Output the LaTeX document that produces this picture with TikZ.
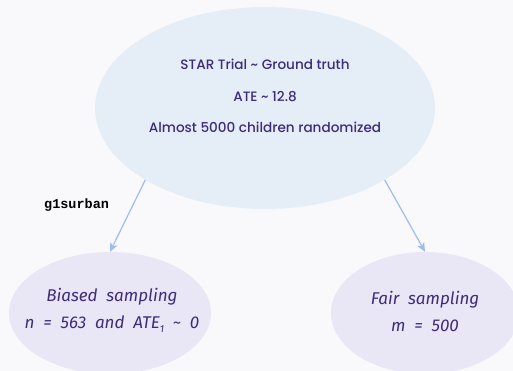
\documentclass[tikz,border=0pt]{standalone}
\usepackage{fontspec}
\usepackage{tikz}
\usetikzlibrary{arrows.meta, shapes.geometric}
\newfontfamily\headfont{Poppins Medium}
\newfontfamily\handfont[WordSpace=2]{Fira Sans}
\newfontfamily\codefont{Liberation Mono}
\newcommand{\lowidx}[1]{\raisebox{-0.45ex}{\fontsize{10}{10}\selectfont #1}}
\definecolor{bgcol}{HTML}{F9F9FB}
\definecolor{trialfill}{HTML}{E5EEF7}
\definecolor{samplefill}{HTML}{E9E6F5}
\definecolor{inkcol}{HTML}{3D2B7C}
\definecolor{linkcol}{HTML}{9DBCF0}
\tikzset{
  trial/.style={ellipse, fill=trialfill, inner sep=0pt, minimum width=340pt, minimum height=202pt},
  sample/.style={ellipse, fill=samplefill, inner sep=0pt, minimum height=122pt},
  headtxt/.style={text=inkcol, font=\headfont\fontsize{13.6}{31.5}\selectfont, align=center},
  handtxt/.style={text=inkcol, font=\handfont\itshape\fontsize{17}{27}\selectfont, align=center},
  link/.style={draw=linkcol, line width=1.2pt, -{Stealth[length=9pt, width=8pt, inset=2.5pt]}}
}
\begin{document}
\begin{tikzpicture}[x=1pt, y=-1pt]
\fill[bgcol] (0,0) rectangle (513,371);
\useasboundingbox (0,0) rectangle (513,371);
\clip (0,0) rectangle (513,371);
\node[trial] (top) at (265,108) {};
\node[sample, minimum width=202pt] (left) at (110,313) {};
\node[sample, minimum width=188pt] (right) at (425,313) {};
\node[headtxt] (toptxt) at (265,96)
  {STAR Trial \textasciitilde{} Ground truth\\ATE \textasciitilde{} 12.8\\Almost 5000 children randomized};
\node[handtxt] (lefttxt) at (112,310) {Biased sampling\\n = 563 and ATE\lowidx{1} \textasciitilde{} 0};
\node[handtxt] (righttxt) at (425,311) {Fair sampling\\m = 500};
\draw[link] (top.211) -- (left.north)
  node[pos=.35, left=20pt, text=black, font=\codefont\bfseries\fontsize{13.5}{15}\selectfont] (lbl) {g1surban};
\draw[link] (top.329) -- (right.north);
\end{tikzpicture}
\end{document}
